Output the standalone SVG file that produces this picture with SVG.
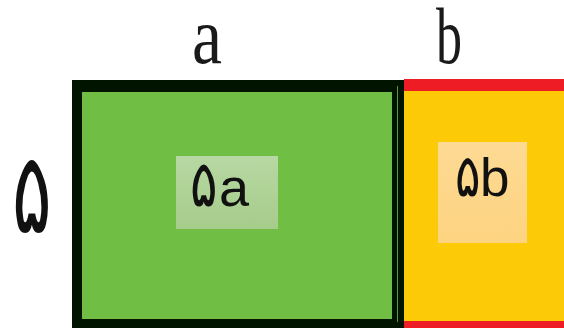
<svg xmlns="http://www.w3.org/2000/svg" width="564" height="328" viewBox="0 0 564 328">
<defs>
<linearGradient id="gA" x1="0" y1="0" x2="0" y2="1"><stop offset="0" stop-color="#b7d8a3"/><stop offset="1" stop-color="#a6cc8b"/></linearGradient>
<linearGradient id="gB" x1="0" y1="0" x2="0" y2="1"><stop offset="0" stop-color="#fdda94"/><stop offset="1" stop-color="#fdd380"/></linearGradient>
<style>
.serif{font-family:"Liberation Serif","DejaVu Serif",serif;fill:#1a1a1a}
.sans{font-family:"Liberation Sans","DejaVu Sans",sans-serif;fill:#111}
.fa{font-family:"DejaVu Sans",sans-serif;fill:#111}
</style>
</defs>
<rect width="564" height="328" fill="#ffffff"/>
<g id="rect-a">
<rect x="72" y="80" width="332" height="260" fill="#001400"/>
<rect x="82" y="92" width="310" height="227" fill="#70bf44"/>
<rect x="397" y="86" width="1" height="236" fill="#5a9a3a"/>
</g>
<g id="rect-b">
<rect x="404" y="79" width="170" height="260" fill="#ee1c24"/>
<rect x="404" y="91" width="170" height="230" fill="#fdca08"/>
</g>
<g id="label-a">
<rect x="176" y="156" width="102" height="73" fill="url(#gA)"/>
<text class="fa" font-size="54" transform="translate(190,206) scale(0.95,1.2)">۵</text>
<text class="sans" x="219" y="206" font-size="54">a</text>
</g>
<g id="label-b">
<rect x="438" y="142" width="89" height="101" fill="url(#gB)"/>
<text class="fa" font-size="50" transform="translate(455,196) scale(0.95,1.2)">۵</text>
<text class="sans" x="480" y="196" font-size="53">b</text>
</g>
<g id="side-labels">
<text class="serif" x="192" y="63" font-size="80" textLength="30" lengthAdjust="spacingAndGlyphs">a</text>
<text class="serif" x="436" y="63" font-size="80" textLength="26" lengthAdjust="spacingAndGlyphs">b</text>
<text class="fa" font-size="74" transform="translate(12,232) scale(1,1.52)">۵</text>
</g>
<g id="connectors"/>
</svg>
